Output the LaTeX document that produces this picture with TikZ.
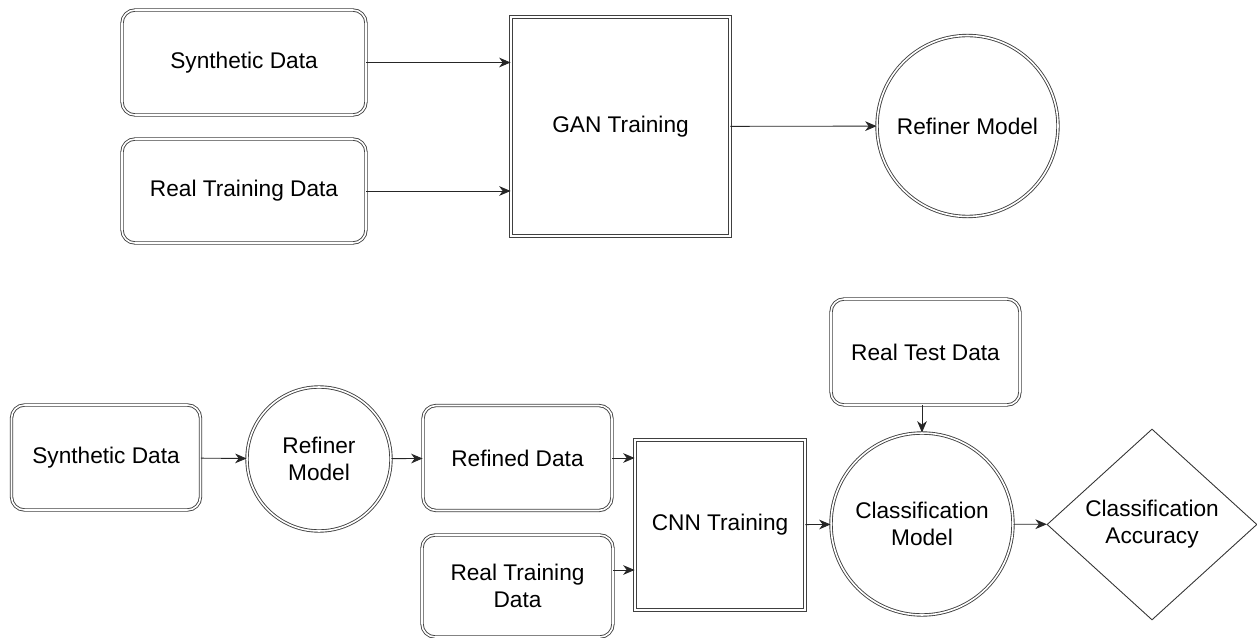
\documentclass[tikz,border=0pt]{standalone}
\usepackage{fontspec}
\setmainfont{Liberation Sans}
\usetikzlibrary{shapes.geometric, arrows.meta}

\begin{document}
\begin{tikzpicture}[x=0.02cm, y=-0.02cm,
        every node/.style = {font=\fontsize{12.9}{15.5}\selectfont, align=center},
        dbl/.style = {draw=black!75, line width=0.5pt, double, double distance=0.9pt},
        data/.style = {dbl, rectangle, rounded corners=0.26cm, minimum width=3.78cm, minimum height=2.1cm},
        train/.style = {dbl, rectangle},
        model/.style = {dbl, circle, inner sep=0pt},
        result/.style = {draw=black!80, line width=0.5pt, diamond, inner sep=0pt, minimum width=4.2cm, minimum height=3.82cm},
        arr/.style = {-{Stealth[length=6.5pt, width=5.5pt, inset=2pt]}, line width=0.5pt, draw=black!85}]
    \useasboundingbox (0,0) rectangle (1257,638);

    % GAN stage
    \node[data, minimum width=4.88cm] at (244, 62.5) (syn) {Synthetic Data};
    \node[data, minimum width=4.88cm, minimum height=2.08cm] at (244, 191) (real) {Real Training Data};
    \node[train, minimum size=4.38cm] at (620.5, 126.5) (gan) {GAN Training};
    \node[model, minimum size=3.62cm] at (967.5, 126) (refiner) {Refiner Model};

    \draw[arr] (syn) -- (syn -| gan.west);
    \draw[arr] (real) -- (real -| gan.west);
    \draw[arr] (gan) -- (refiner);

    % CNN stage
    \node[data] at (106, 457.5) (syn2) {Synthetic Data};
    \node[model, minimum size=2.88cm] at (319, 459) (refiner2) {Refiner\\Model};
    \node[data] at (517.5, 458) (refined) {Refined Data};
    \node[data, minimum width=3.82cm, minimum height=2.04cm] at (517.5, 586) (real2) {Real Training\\Data};
    \node[train, minimum size=3.4cm] at (720, 525) (cnn) {CNN Training};
    \node[data, minimum height=2.12cm] at (925.5, 352) (test) {Real Test Data};
    \node[model, minimum size=3.64cm] at (922, 524) (cls) {Classification\\Model};
    \node[result] at (1152, 524.5) (acc) {Classification\\Accuracy};

    \coordinate (real2out) at ([yshift=0.32cm]real2.east);

    \draw[arr] (syn2) -- (refiner2);
    \draw[arr] (refiner2) -- (refined);
    \draw[arr] (refined) -- (refined -| cnn.west);
    \draw[arr] (real2out) -- (real2out -| cnn.west);
    \draw[arr] (cnn) -- (cls);
    \draw[arr] (test.south -| cls) -- (cls.north);
    \draw[arr] (cls) -- (acc);
\end{tikzpicture}
\end{document}
